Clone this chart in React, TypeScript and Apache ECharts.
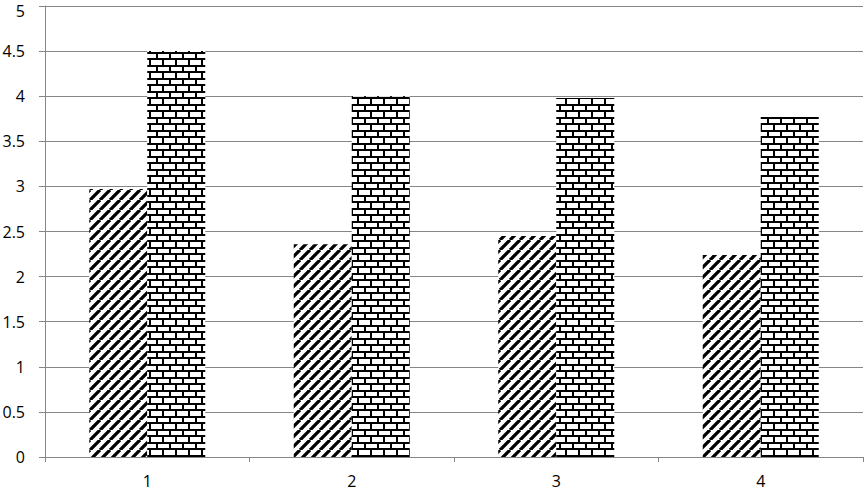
import React, { useEffect, useRef } from "react";
import * as echarts from "echarts";

const categories = ["1", "2", "3", "4"];
const hatchedValues = [2.97, 2.36, 2.45, 2.24];
const brickValues = [4.5, 4.0, 3.98, 3.77];

function makeStripe() {
  const s = 10;
  const c = document.createElement("canvas");
  c.width = s;
  c.height = s;
  const ctx = c.getContext("2d")!;
  ctx.fillStyle = "#fff";
  ctx.fillRect(0, 0, s, s);
  ctx.strokeStyle = "#000";
  ctx.lineWidth = 3.3;
  ctx.beginPath();
  for (const x0 of [-s, 0, s]) {
    ctx.moveTo(x0, s);
    ctx.lineTo(x0 + s, 0);
  }
  ctx.stroke();
  return { image: c.toDataURL(), repeat: "repeat", imageWidth: s, imageHeight: s };
}

function makeBrick() {
  const w = 13;
  const h = 13;
  const c = document.createElement("canvas");
  c.width = w;
  c.height = h;
  const ctx = c.getContext("2d")!;
  ctx.fillStyle = "#fff";
  ctx.fillRect(0, 0, w, h);
  ctx.fillStyle = "#000";
  ctx.fillRect(0, 0, w, 2);
  ctx.fillRect(0, 6, w, 2);
  ctx.fillRect(0, 2, 2, 4);
  ctx.fillRect(6, 8, 2, 5);
  return { image: c.toDataURL(), repeat: "repeat", imageWidth: w, imageHeight: h };
}

export default function App() {
  const ref = useRef<HTMLDivElement>(null);
  useEffect(() => {
    if (!ref.current) return;
    const chart = echarts.init(ref.current, null, { renderer: "svg" });
    const grey = "#868686";
    const font = "'Open Sans', 'Liberation Sans', sans-serif";
    chart.setOption({
      animation: false,
      backgroundColor: "#fff",
      grid: { left: 45, top: 6, right: 1, bottom: 34, containLabel: false, outerBoundsMode: "none" },
      xAxis: {
        type: "category",
        data: categories,
        axisLine: { show: true, lineStyle: { color: grey, width: 1 } },
        axisTick: { show: true, alignWithLabel: false, length: 5, lineStyle: { color: grey } },
        axisLabel: { color: "#000", fontSize: 16, lineHeight: 16, fontFamily: font, margin: 16 },
        splitLine: { show: false },
      },
      yAxis: {
        type: "value",
        min: 0,
        max: 5,
        interval: 0.5,
        axisLine: { show: true, lineStyle: { color: grey, width: 1 } },
        axisTick: { show: true, length: 6, lineStyle: { color: grey } },
        axisLabel: {
          color: "#000",
          fontSize: 16,
          lineHeight: 12,
          fontFamily: font,
          margin: 20,
          formatter: (v: number) => (v === 5 ? "{t|5}" : String(v)),
          rich: {
            t: { color: "#000", fontSize: 16, lineHeight: 12, fontFamily: font, padding: [10, 0, 0, 0] },
          },
        },
        splitLine: { show: true, lineStyle: { color: grey, width: 1 } },
      },
      series: [
        {
          type: "bar",
          data: hatchedValues,
          barWidth: 58,
          barGap: "0%",
          itemStyle: { color: makeStripe() },
        },
        {
          type: "bar",
          data: brickValues,
          barWidth: 58,
          barGap: "0%",
          itemStyle: { color: makeBrick() },
        },
      ],
    });
    return () => chart.dispose();
  }, []);
  return (
    <div
      ref={ref}
      style={{ position: "fixed", left: 0, top: 0, width: 864, height: 491, background: "#fff" }}
    />
  );
}
